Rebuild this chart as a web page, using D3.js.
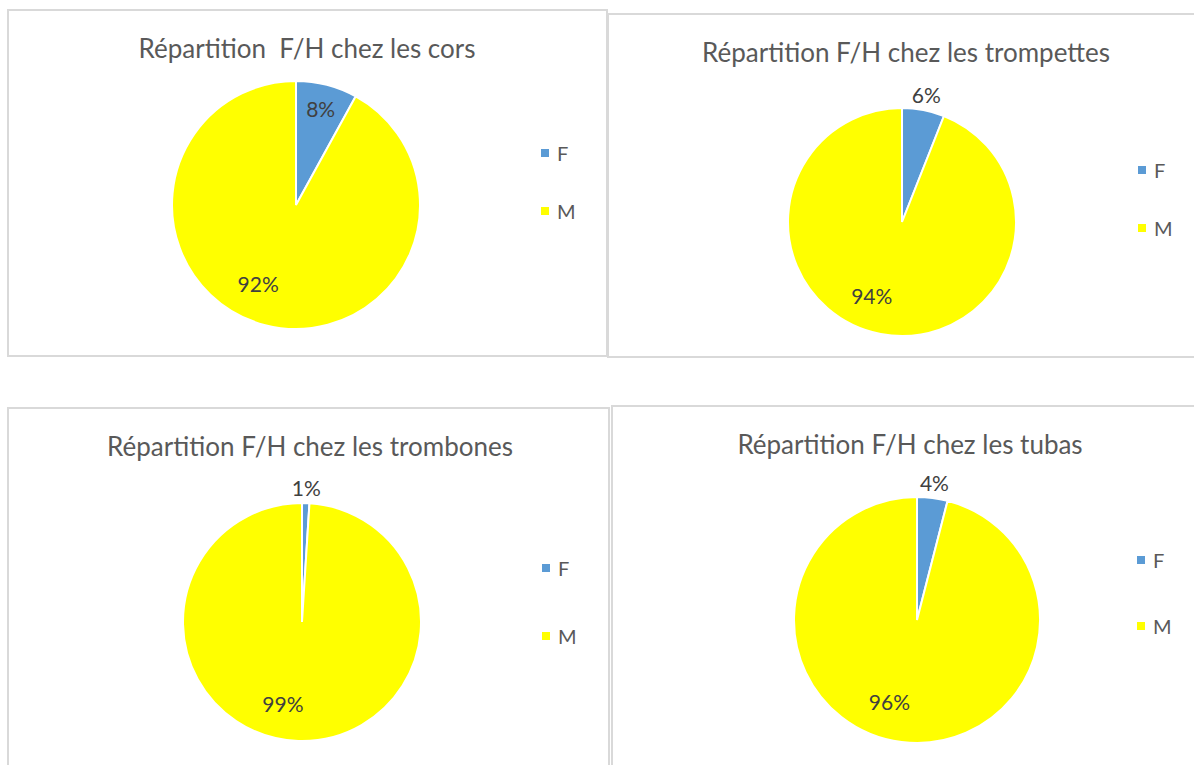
<!DOCTYPE html>
<html>
<head>
<meta charset="utf-8">
<script src="https://d3js.org/d3.v7.min.js"></script>
<style>
    body { margin: 0; background: #fff; }
    svg text { font-family: Lato, "Open Sans", sans-serif; }
</style>
</head>
<body>
<div id="chart-area"></div>
<script>

// Chart data (percentages)
var titles = [
    "Répartition  F/H chez les cors",
    "Répartition F/H chez les trompettes",
    "Répartition F/H chez les trombones",
    "Répartition F/H chez les tubas"
];
var categories = ["F", "M"];
var valuesF = [8, 6, 1, 4];
var valuesM = [92, 94, 99, 96];

// Colour per category
var colorScale = d3.scaleOrdinal()
    .domain(categories)
    .range(["#5b9bd5", "#ffff00"]);

// Panel layout: frame, pie centre/radius, title, legend
var panels = [
    {x: 8,   y: 10,  w: 599, h: 346, cx: 296, cy: 205, r: 124, tx: 307, ty: 58,  lx: 541,  ly: 153, gap: 58, fIn: true},
    {x: 608, y: 14,  w: 600, h: 343, cx: 902, cy: 222, r: 114, tx: 906, ty: 62,  lx: 1138, ly: 170, gap: 58, fIn: false},
    {x: 8,   y: 408, w: 601, h: 370, cx: 302, cy: 622, r: 119, tx: 310, ty: 456, lx: 542,  ly: 568, gap: 68, fIn: false},
    {x: 612, y: 406, w: 600, h: 370, cx: 917, cy: 620, r: 123, tx: 910, ty: 454, lx: 1137, ly: 560, gap: 66, fIn: false}
];

var width = 1194, height = 765;

var svg = d3.select("#chart-area").append("svg")
    .attr("width", width)
    .attr("height", height);

var pie = d3.pie().sort(null).value(function(d){ return d.value; });

drawCharts();

function drawCharts() {

    panels.forEach(function(p, i){

        var data = [
            {key: categories[0], value: valuesF[i]},
            {key: categories[1], value: valuesM[i]}
        ];

        var g = svg.append("g").attr("class", "panel");

        // frame
        g.append("rect")
            .attr("x", p.x).attr("y", p.y)
            .attr("width", p.w).attr("height", p.h)
            .attr("fill", "#fff")
            .attr("stroke", "#d9d9d9")
            .attr("stroke-width", 2);

        // title
        g.append("text")
            .attr("x", p.tx).attr("y", p.ty)
            .attr("text-anchor", "middle")
            .style("white-space", "pre")
            .attr("font-size", 26)
            .attr("fill", "#595959")
            .text(titles[i]);

        var arc = d3.arc().innerRadius(0).outerRadius(p.r);
        var arcs = pie(data);

        var pieG = g.append("g")
            .attr("transform", "translate(" + p.cx + "," + p.cy + ")");

        pieG.selectAll("path")
            .data(arcs)
            .enter().append("path")
            .attr("d", arc)
            .attr("fill", function(d){ return colorScale(d.data.key); })
            .attr("stroke", "#fff")
            .attr("stroke-width", 2);

        // data labels
        pieG.selectAll("text.label")
            .data(arcs)
            .enter().append("text")
            .attr("class", "label")
            .attr("text-anchor", "middle")
            .attr("dominant-baseline", "central")
            .attr("font-size", 21)
            .attr("fill", "#404040")
            .attr("transform", function(d){
                var a, rr;
                var mid = (d.startAngle + d.endAngle) / 2;
                if (d.index === 0) {
                    a = mid;
                    rr = p.fIn ? p.r * 0.8 : p.r + 16;
                } else {
                    a = mid + 0.2;
                    rr = p.r * 0.7;
                }
                return "translate(" + (rr * Math.sin(a)) + "," + (-rr * Math.cos(a)) + ")";
            })
            .text(function(d){ return d.data.value + "%"; });

        // legend
        var legend = g.selectAll("g.legend")
            .data(categories)
            .enter().append("g")
            .attr("class", "legend")
            .attr("transform", function(d, j){
                return "translate(" + p.lx + "," + (p.ly + j * p.gap) + ")";
            });

        legend.append("rect")
            .attr("x", 0).attr("y", -4)
            .attr("width", 8).attr("height", 8)
            .attr("fill", function(d){ return colorScale(d); });

        legend.append("text")
            .attr("x", 16).attr("y", 0)
            .attr("dominant-baseline", "central")
            .attr("font-size", 20)
            .attr("fill", "#595959")
            .text(function(d){ return d; });
    });
}

</script>
</body>
</html>
